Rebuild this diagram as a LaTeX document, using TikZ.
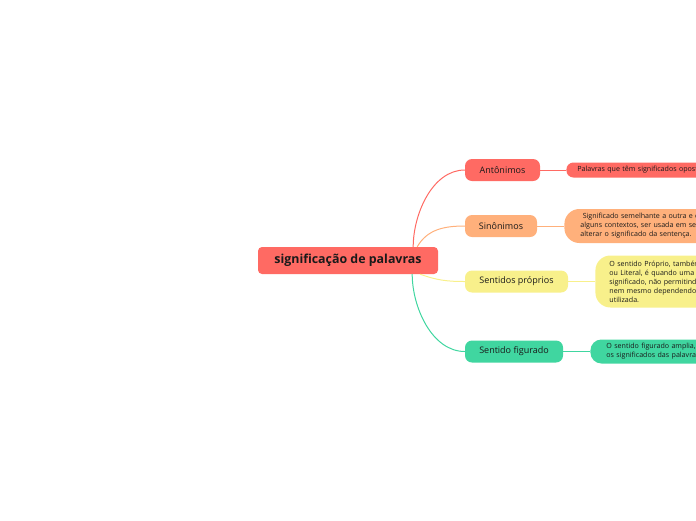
\documentclass[tikz,border=0pt]{standalone}
\usepackage{fontspec}
\setmainfont{Open Sans}
\usepackage{xcolor}
\definecolor{Rouge}{HTML}{FF6A63}
\definecolor{Peach}{HTML}{FFB07B}
\definecolor{Lemon}{HTML}{F8F08B}
\definecolor{Mint}{HTML}{40D6A0}
\definecolor{Ink}{HTML}{1A1A1A}
\usetikzlibrary{positioning}

\begin{document}
\begin{tikzpicture}[x=1pt,y=-1pt,node distance=8mm and 26pt,
  every node/.style={text=Ink,inner sep=0pt},
  topic/.style={rounded corners=7pt,minimum height=22pt,font=\fontsize{9}{11}\selectfont},
  note/.style={anchor=west,align=left,text width=150pt,font=\fontsize{7.1}{9}\selectfont},
  branch/.style={line width=1pt}]
\useasboundingbox (0,0) rectangle (696,520);
\begin{scope}
\clip (0,0) rectangle (696,520);
\node[fill=Rouge,rounded corners=4pt,minimum width=180pt,minimum height=27pt,font=\bfseries\fontsize{12.4}{14}\selectfont] (c) at (348,260.5) {significação de palavras};
% ramos
\node[topic,fill=Rouge,minimum width=75pt] (ant) at (502.5,170) {Antônimos};
\node[topic,fill=Peach,minimum width=72pt] (sin) at (501,226) {Sinônimos};
\node[topic,fill=Lemon,minimum width=103pt] (pro) at (516.5,281.5) {Sentidos próprios};
\node[topic,fill=Mint,minimum width=98pt] (fig) at (514,351.5) {Sentido figurado};
% notas
\node[note,fill=Rouge,rounded corners=7pt,minimum height=15pt,inner xsep=11pt,right=of ant] (antn) {Palavras que têm significados opostos};
\node[note,fill=Peach,rounded corners=15pt,minimum height=34pt,inner xsep=16pt,right=27pt of sin] (sinn) {\ Significado semelhante a outra e que\\alguns contextos, ser usada em seu\\alterar o significado da sentença.};
\node[note,fill=Lemon,rounded corners=15pt,minimum height=52pt,inner xsep=14pt,right=27pt of pro] (pron) {O sentido Próprio, também\\ou Literal, é quando uma\\significado, não permitindo\\nem mesmo dependendo\\utilizada.};
\node[note,fill=Mint,rounded corners=11pt,minimum height=24pt,inner xsep=16pt,right=27pt of fig] (fign) {O sentido figurado amplia,\\os significados das palavras};
% ligações
\draw[branch,Rouge] ([xshift=-25pt]c.north east) to[out=90,in=180,looseness=0.9] (ant.west);
\draw[branch,Peach] ([xshift=-21pt]c.north east) to[out=60,in=180] (sin.west);
\draw[branch,Lemon] ([xshift=-18pt]c.south east) to[out=-20,in=180] (pro.west);
\draw[branch,Mint] ([xshift=-26pt]c.south east) to[out=-90,in=180,looseness=0.9] (fig.west);
\draw[branch,Rouge] (ant) -- (antn);
\draw[branch,Peach] (sin) -- (sinn);
\draw[branch,Lemon] (pro) -- (pron);
\draw[branch,Mint] (fig) -- (fign);
\end{scope}
\end{tikzpicture}
\end{document}
